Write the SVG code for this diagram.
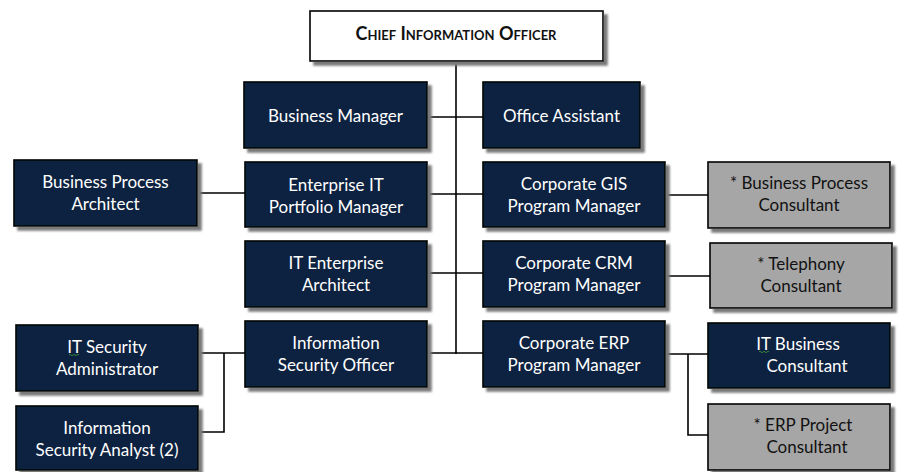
<svg xmlns="http://www.w3.org/2000/svg" width="905" height="472" viewBox="0 0 905 472">
  <defs>
    <filter id="shadow" x="-10%" y="-10%" width="130%" height="140%">
      <feDropShadow dx="4" dy="4" stdDeviation="0.8" flood-color="#7a7a7a" flood-opacity="1"/>
    </filter>
  </defs>
  <style>
    .box { stroke: #000; stroke-width: 1.6; filter: url(#shadow); }
    .navy { fill: #11233f; }
    .grey { fill: #a6a6a6; }
    .white { fill: #fff; }
    text { font-family: Lato, "Liberation Sans", sans-serif; font-size: 17px; text-anchor: middle; }
    .lt { fill: #fff; }
    .dk { fill: #111; }
    .title { font-weight: bold; font-size: 18px; font-variant: small-caps; fill: #111; }
    .conn { stroke: #000; stroke-width: 1.6; fill: none; }
    .squig { stroke: #3a9a3a; stroke-width: 0.8; fill: none; }
  </style>

  <!-- reporting lines -->
  <g id="connectors">
    <path class="conn" d="M456,61 V354"/>
    <path class="conn" d="M427,117 H483"/>
    <path class="conn" d="M197,193 H245"/>
    <path class="conn" d="M427,194 H483"/>
    <path class="conn" d="M665,195 H708"/>
    <path class="conn" d="M427,273 H483"/>
    <path class="conn" d="M665,276 H710"/>
    <path class="conn" d="M427,353 H483"/>
    <path class="conn" d="M198,353 H245"/>
    <path class="conn" d="M224,353 V432 H198"/>
    <path class="conn" d="M665,354 H708"/>
    <path class="conn" d="M688,354 V435 H708"/>
  </g>

  <g id="cio">
    <rect class="box white" x="310" y="11" width="293" height="50"/>
    <text class="title" x="456" y="40">Chief Information Officer</text>
  </g>

  <g id="business-manager">
    <rect class="box navy" x="244" y="82" width="183" height="66"/>
    <text class="lt" x="335.5" y="122">Business Manager</text>
  </g>

  <g id="office-assistant">
    <rect class="box navy" x="483" y="82" width="157" height="66"/>
    <text class="lt" x="561.5" y="122">Office Assistant</text>
  </g>

  <g id="business-process-architect">
    <rect class="box navy" x="14" y="160" width="183" height="66"/>
    <text class="lt" x="105.5" y="188">Business Process</text>
    <text class="lt" x="105.5" y="210">Architect</text>
  </g>

  <g id="enterprise-it-portfolio-manager">
    <rect class="box navy" x="245" y="162" width="182" height="65"/>
    <text class="lt" x="336" y="191">Enterprise IT</text>
    <text class="lt" x="336" y="213">Portfolio Manager</text>
  </g>

  <g id="corporate-gis-program-manager">
    <rect class="box navy" x="483" y="162" width="182" height="65"/>
    <text class="lt" x="574" y="190">Corporate GIS</text>
    <text class="lt" x="574" y="212">Program Manager</text>
  </g>

  <g id="business-process-consultant">
    <rect class="box grey" x="708" y="162" width="182" height="66"/>
    <text class="dk" x="799" y="189">* Business Process</text>
    <text class="dk" x="799" y="211">Consultant</text>
  </g>

  <g id="it-enterprise-architect">
    <rect class="box navy" x="245" y="241" width="182" height="66"/>
    <text class="lt" x="336" y="269">IT Enterprise</text>
    <text class="lt" x="336" y="291">Architect</text>
  </g>

  <g id="corporate-crm-program-manager">
    <rect class="box navy" x="483" y="241" width="182" height="66"/>
    <text class="lt" x="574" y="269">Corporate CRM</text>
    <text class="lt" x="574" y="291">Program Manager</text>
  </g>

  <g id="telephony-consultant">
    <rect class="box grey" x="710" y="243" width="182" height="65"/>
    <text class="dk" x="801" y="270">* Telephony</text>
    <text class="dk" x="801" y="292">Consultant</text>
  </g>

  <g id="information-security-officer">
    <rect class="box navy" x="245" y="321" width="182" height="66"/>
    <text class="lt" x="336" y="349">Information</text>
    <text class="lt" x="336" y="371">Security Officer</text>
  </g>

  <g id="corporate-erp-program-manager">
    <rect class="box navy" x="483" y="321" width="182" height="66"/>
    <text class="lt" x="574" y="349">Corporate ERP</text>
    <text class="lt" x="574" y="371">Program Manager</text>
  </g>

  <g id="it-security-administrator">
    <rect class="box navy" x="16" y="325" width="182" height="66"/>
    <text class="lt" x="107" y="353">IT Security</text>
    <text class="lt" x="107" y="375">Administrator</text>
    <path class="squig" d="M69,355 q1,-1.5 2,0 t2,0 t2,0 t2,0 t2,0"/>
  </g>

  <g id="information-security-analyst">
    <rect class="box navy" x="16" y="406" width="182" height="64"/>
    <text class="lt" x="107" y="434">Information</text>
    <text class="lt" x="107" y="456">Security Analyst (2)</text>
  </g>

  <g id="it-business-consultant">
    <rect class="box navy" x="708" y="323" width="182" height="65"/>
    <text class="lt" x="798" y="350">IT Business</text>
    <text class="lt" x="807" y="372">Consultant</text>
    <path class="squig" d="M759,352 q1,-1.5 2,0 t2,0 t2,0 t2,0 t2,0"/>
  </g>

  <g id="erp-project-consultant">
    <rect class="box grey" x="708" y="404" width="182" height="66"/>
    <text class="dk" x="803" y="431">* ERP Project</text>
    <text class="dk" x="807" y="453">Consultant</text>
  </g>
</svg>
